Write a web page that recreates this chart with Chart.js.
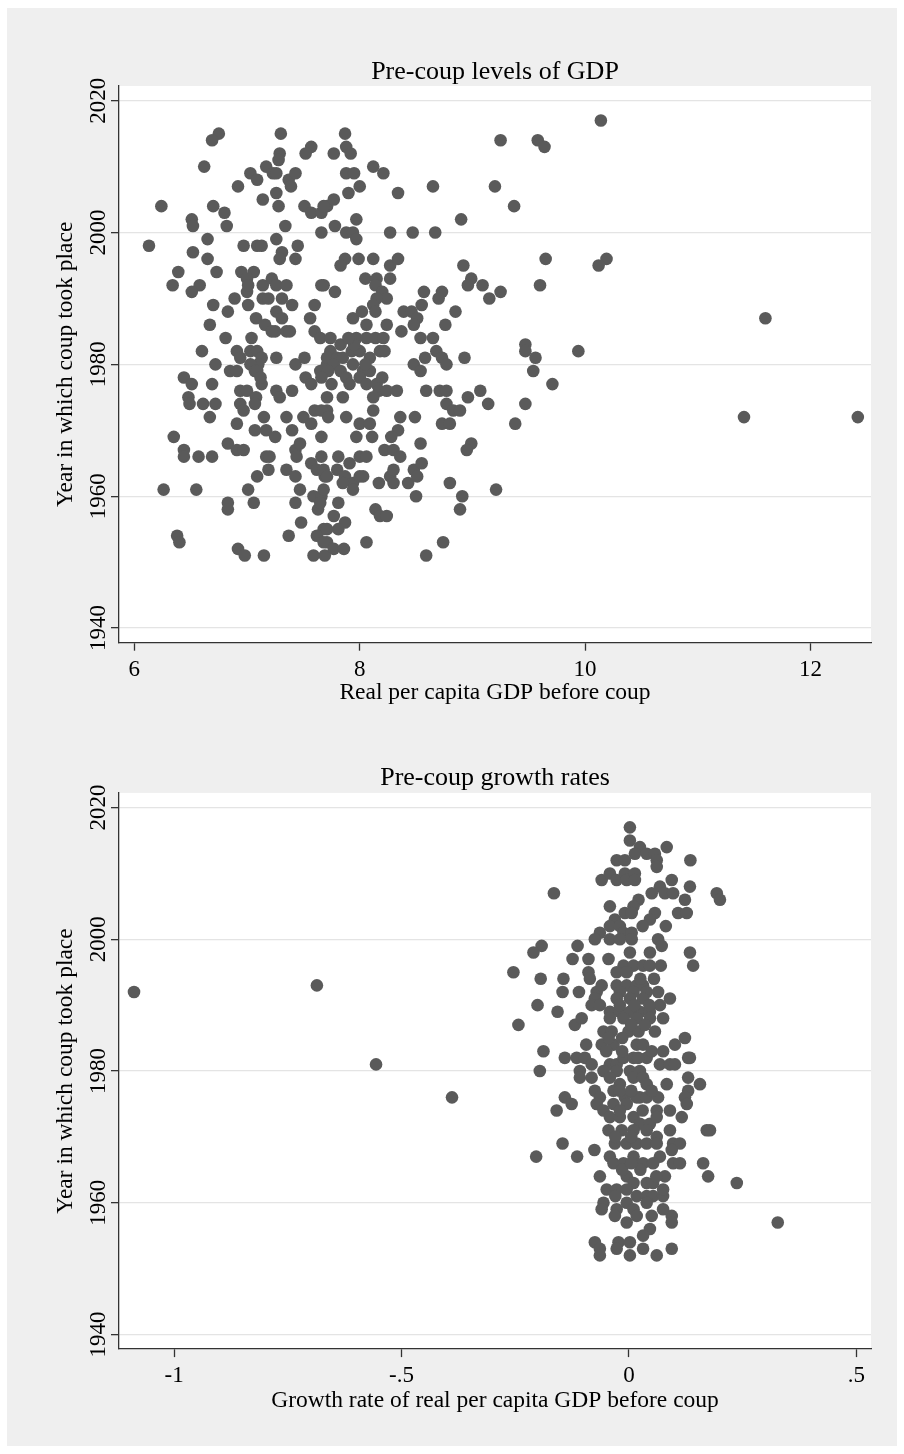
<!DOCTYPE html>
<html>
<head>
<meta charset="utf-8">
<script src="https://cdn.jsdelivr.net/npm/chart.js@4.4.1/dist/chart.umd.min.js"></script>
<style>
  body { margin: 0; background: #ffffff; }
  #frame { position: absolute; left: 7px; top: 8px; width: 890px; height: 1438px; background: #efefef; }
  .box { position: absolute; left: 0; width: 904px; height: 727px; }
</style>
</head>
<body>
<div id="frame"></div>
<div class="box" style="top:0px"><canvas id="levels"></canvas></div>
<div class="box" style="top:727px"><canvas id="growth"></canvas></div>
<script>
// tick values
const yearTicks = [1940, 1960, 1980, 2000, 2020];
const gdpTicks = [6, 8, 10, 12];
const growthTicks = [-1, -0.5, 0, 0.5];
const growthTickLabels = ["-1", "-.5", "0", ".5"];

// top panel: real per capita GDP before coup (log) vs year
const gdpLevel = [
  10.14, 9.58, 9.64, 9.37, 9.65, 10.19, 10.12, 9.6, 11.6, 9.47, 9.47, 9.56, 9.94, 9.54, 9.71, 9.47, 9.38, 11.41, 12.42,
  6.75, 6.69, 7.30, 6.62, 7.29, 7.28, 7.57, 7.52, 7.03, 7.09, 7.17, 7.23, 7.26, 7.37, 7.43, 7.39, 6.92, 7.14, 7.26, 7.28,
  7.51, 7.57, 7.66, 7.71, 6.24, 6.70, 6.80, 6.82, 6.51, 6.52, 7.34, 7.66, 6.13, 6.65, 6.52, 6.65, 6.97, 7.09, 7.13, 7.26,
  7.31, 7.29, 7.45, 7.43, 6.39, 6.34, 6.58, 6.51, 6.73, 6.95, 7.06, 7.0, 7.0, 7.01, 7.14, 7.22, 7.26, 7.35, 7.14, 7.19,
  7.31, 7.40, 7.26, 7.31, 7.25, 7.35, 7.66, 6.89, 6.70, 6.83, 7.01, 7.08, 6.67, 7.16, 7.22, 7.60, 7.56, 7.60, 7.65, 6.81,
  7.04, 7.38,
  6.60, 6.72, 6.91, 6.94, 7.03, 7.09, 7.13, 7.10, 7.03, 7.07, 7.09, 7.13, 7.12, 6.85, 6.91, 7.26, 7.43, 7.51, 6.44, 6.51,
  6.69, 6.48, 6.49, 6.61, 6.72, 6.67, 6.94, 7.0, 6.94, 6.97, 7.08, 7.07, 7.26, 7.29, 7.40, 7.52, 7.57, 7.65, 7.71, 6.91,
  7.15, 7.07, 7.17, 7.25, 7.35, 7.40, 7.50, 7.60, 7.57, 7.66, 7.71, 6.35, 6.44, 6.44, 6.57, 6.69, 6.83, 6.91, 6.97, 7.17,
  7.20, 7.19, 7.09, 7.35, 7.43, 7.43, 7.47, 7.44, 7.57, 7.66, 7.62, 7.69, 6.26, 6.55, 7.01, 7.06, 6.83, 6.83, 7.47, 7.43,
  7.59, 7.66, 7.63, 7.65, 7.48, 7.37, 7.68, 7.62, 6.38, 6.40, 6.92, 6.98, 7.15, 7.59, 7.69, 7.71,
  7.87, 7.88, 7.92, 7.77, 8.12, 8.21, 7.88, 7.95, 8.0, 7.90, 8.34, 8.65, 7.77, 7.68, 7.97, 7.78, 7.88, 7.94, 7.97, 8.27,
  8.47, 8.67, 8.90, 9.20, 9.25, 7.87, 7.83, 7.99, 8.12, 8.27, 8.34, 7.68, 7.78, 8.05, 8.15, 8.14, 8.27, 8.20, 8.24, 8.15,
  8.12, 8.14, 8.57, 8.73, 8.70, 8.55, 8.39, 8.46, 8.51, 8.48, 7.94, 8.02, 8.06, 8.24, 8.37, 8.76, 8.85, 8.92, 8.99, 8.96,
  9.09, 9.15, 9.25, 7.97, 8.06, 8.14, 8.21, 8.54, 8.65,
  7.74, 7.83, 7.74, 7.71, 7.80, 7.77, 7.72, 7.83, 7.93, 8.0, 8.09, 8.18, 8.22, 7.94, 8.03, 7.88, 7.91, 8.0, 8.09, 8.06,
  8.15, 8.20, 8.17, 8.24, 8.33, 7.66, 7.71, 7.66, 7.72, 7.85, 7.88, 8.12, 8.0, 8.09, 7.97, 8.11, 8.36, 8.49, 8.34, 8.28,
  8.22, 8.30, 8.36, 8.54, 8.48, 8.54, 8.58, 8.68, 8.73, 8.77, 8.93, 8.59, 8.71, 8.77, 8.77, 8.83, 8.89, 8.96, 9.07, 9.14,
  8.73, 8.80, 8.99, 8.95, 7.81, 8.0, 8.06, 7.68, 7.71, 7.80, 7.87, 7.91, 7.94, 8.0, 8.03, 7.85, 7.94, 8.17, 8.27, 8.30,
  8.30, 8.43, 8.48, 8.55, 8.51, 8.80, 8.50, 7.68, 7.81, 7.77, 7.87, 7.81, 7.71, 7.68, 7.77, 7.86, 8.14, 8.18, 8.24, 8.06,
  8.59, 8.74, 8.91, 8.89, 9.21,
  7.95, 8.05, 7.85, 7.90, 7.75, 8.12
];
const gdpYear = [
  2017, 2014, 2013, 2004, 1996, 1996, 1995, 1992, 1987, 1983, 1982, 1981, 1982, 1979, 1977, 1974, 1971, 1972, 1972,
  2015, 2014, 2015, 2010, 2012, 2011, 2013, 2012, 2009, 2008, 2010, 2009, 2009, 2008, 2009, 2007, 2007, 2005, 2006, 2004,
  2004, 2003, 2003, 2004, 2004, 2004, 2003, 2001, 2002, 2001, 2001, 2000, 1998, 1999, 1997, 1996, 1998, 1998, 1998, 1999,
  1997, 1996, 1998, 1996, 1994, 1992, 1992, 1991, 1994, 1994, 1994, 1993, 1991, 1992, 1992, 1993, 1992, 1992, 1990, 1990,
  1990, 1989, 1988, 1987, 1985, 1985, 1992, 1990, 1989, 1988, 1989, 1987, 1986, 1986, 1985, 1989, 1987, 1985, 1984, 1984,
  1984, 1985,
  1982, 1980, 1982, 1981, 1982, 1982, 1981, 1980, 1980, 1979, 1979, 1977, 1978, 1979, 1979, 1981, 1980, 1981, 1978, 1977,
  1977, 1975, 1974, 1974, 1974, 1972, 1976, 1976, 1974, 1973, 1975, 1974, 1976, 1975, 1976, 1978, 1977, 1979, 1980, 1971,
  1972, 1970, 1970, 1969, 1972, 1970, 1972, 1973, 1971, 1969, 1973, 1969, 1967, 1966, 1966, 1966, 1968, 1967, 1967, 1966,
  1966, 1964, 1963, 1964, 1963, 1967, 1968, 1966, 1965, 1966, 1964, 1963, 1961, 1961, 1961, 1959, 1959, 1958, 1961, 1959,
  1960, 1960, 1958, 1959, 1956, 1954, 1955, 1954, 1954, 1953, 1952, 1951, 1951, 1951, 1951, 1953,
  2015, 2013, 2012, 2012, 2010, 2009, 2009, 2009, 2007, 2006, 2006, 2007, 2005, 2004, 2002, 2001, 2000, 2000, 1999, 2000,
  2000, 2000, 2002, 2007, 2014, 1996, 1995, 1996, 1996, 1995, 1996, 1992, 1991, 1993, 1993, 1992, 1993, 1991, 1990, 1990,
  1989, 1988, 1991, 1991, 1990, 1989, 1988, 1988, 1987, 1986, 1987, 1988, 1986, 1986, 1985, 1986, 1988, 1995, 1993, 1992,
  1992, 1990, 1991, 1984, 1984, 1984, 1984, 1984, 1984,
  1984, 1983, 1982, 1981, 1981, 1980, 1979, 1979, 1982, 1982, 1981, 1982, 1982, 1980, 1979, 1978, 1977, 1978, 1979, 1977,
  1977, 1978, 1976, 1976, 1976, 1978, 1975, 1973, 1972, 1975, 1972, 1973, 1971, 1971, 1969, 1969, 1972, 1972, 1970, 1969,
  1967, 1967, 1966, 1968, 1980, 1979, 1981, 1982, 1981, 1980, 1981, 1976, 1976, 1976, 1974, 1973, 1973, 1975, 1976, 1974,
  1971, 1971, 1968, 1967, 1966, 1966, 1966, 1964, 1963, 1964, 1963, 1965, 1962, 1963, 1963, 1962, 1961, 1962, 1963, 1962,
  1964, 1962, 1964, 1965, 1963, 1962, 1960, 1961, 1959, 1957, 1956, 1955, 1955, 1953, 1952, 1952, 1958, 1957, 1957, 1953,
  1951, 1953, 1960, 1958, 1961,
  1983, 1980, 1981, 1984, 1977, 1975
];

// bottom panel: growth rate of real per capita GDP before coup vs year
const growthRate = [
  -1.088, -0.686, -0.556, -0.389, 0.327, 0.237,
  0.002, 0.002, 0.024, 0.013, 0.039, 0.057, 0.061, 0.061, 0.083, -0.027, -0.009, 0.135, -0.060, -0.042, -0.027, -0.009,
  -0.005, 0.013, 0.013, 0.094, 0.134, 0.068, 0.079, 0.097, 0.050, 0.123, 0.193, 0.200, -0.165, 0.021, 0.010, -0.042,
  -0.009, 0.006, 0.057, 0.046, 0.108, 0.127, -0.031, -0.042, -0.020, -0.012, 0.006, 0.081, -0.064, -0.075, -0.042, -0.020,
  0.006, 0.064, 0.072, 0.134, 0.141, 0.002, 0.046, -0.113, -0.124, -0.089, -0.192, -0.210, -0.254, -0.194, -0.144, -0.089,
  -0.086, -0.012, 0.010, 0.031, 0.046, 0.070, -0.027, -0.005, -0.146, -0.110, -0.071, -0.060, -0.075, -0.027, -0.005, 0.017,
  0.031, -0.020, 0.010, 0.039, 0.064, 0.090, -0.027, 0.002, 0.031, 0.068, -0.201, -0.157, -0.082, -0.064, -0.042, -0.020,
  0.002, 0.024, 0.046, 0.075, -0.042, -0.012, 0.017, 0.046, -0.119, -0.104, -0.243, -0.056, -0.038, -0.001, 0.021, 0.057,
  0.123, 0.101, -0.188, -0.094, -0.060, -0.034, 0.017, 0.031,
  -0.141, -0.115, -0.097, -0.082, -0.196, -0.108, -0.108, -0.082, -0.042, -0.027, -0.012, 0.010, 0.039, -0.056, -0.027, 0.002,
  0.024, 0.068, 0.090, 0.101, 0.130, 0.134, 0.130, 0.156, 0.130, 0.123, 0.127, 0.083, -0.042, -0.020, 0.010, 0.031,
  0.039, 0.024, 0.017, 0.039, -0.075, -0.064, -0.071, -0.056, -0.034, -0.034, -0.009, -0.005, -0.141, -0.126, -0.159, 0.064,
  0.061, 0.090, 0.116, -0.042, -0.020, 0.010, 0.024, 0.046, 0.061, -0.045, -0.016, 0.010, 0.039, 0.061, 0.090, 0.171,
  0.178, -0.031, -0.005, 0.017, 0.039, 0.061, 0.097, 0.112, 0.094, -0.146, -0.076, -0.204, -0.114, -0.042, -0.034, -0.012,
  0.010, 0.031, 0.068, 0.053, 0.097, 0.112, 0.163, 0.174, -0.064, -0.005, 0.010, 0.039, 0.053, 0.079, -0.049, -0.027,
  -0.005, 0.017, 0.039, 0.053, 0.075, -0.056, -0.060, -0.027, -0.005, 0.010, 0.039, -0.031, -0.005, 0.017, 0.050, 0.094,
  0.094, 0.046, 0.031, -0.075, -0.064, -0.064, -0.023, -0.027, 0.002, 0.002, 0.031, 0.061, 0.094,
  -0.045, -0.015, 0.005, 0.035, -0.020, 0.012, 0.045, -0.050, -0.015, 0.020, 0.050, 0.075, -0.020, 0.005, 0.050, -0.020,
  0.030, 0.005, -0.030, 0.025, -0.015, 0.005, 0.060, -0.030, 0.075, 0.025, 0.055, -0.045, 0.030, 0.075
];
const growthYear = [
  1992, 1993, 1981, 1976, 1957, 1963,
  2017, 2015, 2014, 2013, 2013, 2013, 2012, 2011, 2014, 2012, 2012, 2012, 2009, 2010, 2009, 2010,
  2009, 2010, 2009, 2009, 2008, 2008, 2007, 2007, 2007, 2006, 2007, 2006, 2007, 2006, 2005, 2005,
  2004, 2004, 2004, 2003, 2004, 2004, 2003, 2002, 2002, 2001, 2001, 2002, 2001, 2000, 2000, 2000,
  2000, 2000, 1999, 1998, 1996, 1998, 1998, 1999, 1997, 1997, 1999, 1998, 1995, 1994, 1994, 1995,
  1994, 1996, 1996, 1996, 1996, 1996, 1995, 1995, 1992, 1992, 1992, 1993, 1991, 1993, 1993, 1993,
  1993, 1992, 1992, 1992, 1992, 1991, 1991, 1991, 1991, 1990, 1990, 1989, 1990, 1990, 1989, 1989,
  1989, 1989, 1989, 1988, 1988, 1988, 1988, 1988, 1987, 1988, 1987, 1986, 1986, 1986, 1986, 1986,
  1985, 1984, 1983, 1984, 1984, 1984, 1984, 1984,
  1982, 1982, 1982, 1981, 1980, 1980, 1979, 1979, 1981, 1981, 1982, 1982, 1982, 1980, 1980, 1980,
  1980, 1981, 1981, 1981, 1982, 1982, 1979, 1978, 1977, 1976, 1975, 1978, 1979, 1978, 1979, 1979,
  1978, 1976, 1976, 1976, 1977, 1976, 1975, 1974, 1975, 1977, 1976, 1975, 1976, 1975, 1974, 1976,
  1974, 1974, 1973, 1973, 1973, 1973, 1972, 1972, 1973, 1971, 1971, 1971, 1971, 1970, 1971, 1971,
  1971, 1969, 1969, 1969, 1969, 1969, 1969, 1969, 1968, 1969, 1968, 1967, 1967, 1967, 1966, 1966,
  1967, 1966, 1967, 1966, 1966, 1966, 1966, 1964, 1964, 1964, 1963, 1963, 1963, 1964, 1962, 1962,
  1962, 1961, 1961, 1961, 1961, 1960, 1959, 1959, 1960, 1959, 1960, 1958, 1957, 1958, 1958, 1958,
  1957, 1956, 1955, 1954, 1953, 1952, 1954, 1953, 1954, 1952, 1953, 1952, 1953,
  1985, 1985, 1987, 1987, 1990, 1990, 1990, 1983, 1983, 1982, 1983, 1983, 1977, 1977, 1977, 1974,
  1974, 1970, 1970, 1965, 1965, 1966, 1964, 1961, 1959, 1994, 1994, 1997, 2002, 1962
];

const serif = "'Liberation Serif', 'Times New Roman', serif";
const dotColor = "#5a5a5a";
const axisColor = "#333333";

// white plot region like the stata plotregion
const plotBackground = {
  id: "plotBackground",
  beforeDraw(chart) {
    const a = chart.chartArea;
    const ctx = chart.ctx;
    ctx.save();
    ctx.fillStyle = "#ffffff";
    ctx.fillRect(a.left, a.top, a.right - a.left, a.bottom - a.top);
    ctx.restore();
  }
};

// vertical year labels on the y axis
const yearLabels = {
  id: "yearLabels",
  afterDraw(chart) {
    const y = chart.scales.y;
    const ctx = chart.ctx;
    ctx.save();
    ctx.fillStyle = "#000000";
    ctx.font = "23px " + serif;
    ctx.textAlign = "center";
    ctx.textBaseline = "middle";
    yearTicks.forEach(function (v) {
      ctx.save();
      ctx.translate(99, y.getPixelForValue(v));
      ctx.rotate(-Math.PI / 2);
      ctx.fillText(String(v), 0, 0);
      ctx.restore();
    });
    ctx.restore();
  }
};

function makeChart(id, p) {
  const points = p.xs.map(function (x, i) {
    return { x: x, y: p.ys[i] };
  });
  return new Chart(document.getElementById(id), {
    type: "scatter",
    data: {
      datasets: [
        {
          data: points,
          backgroundColor: dotColor,
          borderColor: dotColor,
          borderWidth: 0,
          pointRadius: 6.3,
          pointHoverRadius: 6.3,
        },
      ],
    },
    options: {
      responsive: true,
      maintainAspectRatio: false,
      animation: false,
      layout: { padding: { left: 0, right: 33, top: 0, bottom: 0 } },
      plugins: {
        legend: { display: false },
        tooltip: { enabled: false },
        title: {
          display: true,
          fullSize: false,
          text: p.title,
          color: "#000000",
          font: { family: serif, size: 26, weight: "normal", lineHeight: 1 },
          padding: { top: p.titleTop, bottom: p.titleBottom },
        },
      },
      scales: {
        x: {
          type: "linear",
          min: p.xMin,
          max: p.xMax,
          afterBuildTicks: function (s) {
            s.ticks = p.xTicks.map(function (v) { return { value: v }; });
          },
          afterFit: function (s) { s.height = p.xHeight; },
          grid: { drawOnChartArea: false, drawTicks: true, tickLength: 8, tickColor: axisColor, tickWidth: 1.3 },
          border: { display: true, color: axisColor, width: 1.3 },
          ticks: {
            color: "#000000",
            font: { family: serif, size: 23 },
            padding: 5.5,
            maxRotation: 0,
            autoSkip: false,
            callback: function (v, i) { return p.xLabels[i]; },
          },
          title: {
            display: true,
            text: p.xTitle,
            color: "#000000",
            font: { family: serif, size: 23.5 },
            padding: { top: 0, bottom: p.xTitleBottom },
          },
        },
        y: {
          type: "linear",
          min: 1937.77,
          max: 2022.23,
          afterBuildTicks: function (s) {
            s.ticks = yearTicks.map(function (v) { return { value: v }; });
          },
          afterFit: function (s) { s.width = 119; },
          grid: { color: "#e4e4e4", lineWidth: 1.3, drawTicks: true, tickLength: 8, tickColor: axisColor, tickWidth: 1.3 },
          border: { display: true, color: axisColor, width: 1.3 },
          ticks: { display: false },
          title: {
            display: true,
            text: "Year in which coup took place",
            color: "#000000",
            font: { family: serif, size: 23.5 },
            padding: { top: 51.9, bottom: 0 },
          },
        },
      },
    },
    plugins: [plotBackground, yearLabels],
  });
}

makeChart("levels", {
  xs: gdpLevel,
  ys: gdpYear,
  title: "Pre-coup levels of GDP",
  titleTop: 59,
  titleBottom: 1,
  xMin: 5.864,
  xMax: 12.537,
  xTicks: gdpTicks,
  xLabels: gdpTicks.map(String),
  xHeight: 84.3,
  xTitle: "Real per capita GDP before coup",
  xTitleBottom: 19.9,
});

makeChart("growth", {
  xs: growthRate,
  ys: growthYear,
  title: "Pre-coup growth rates",
  titleTop: 38,
  titleBottom: 1.9,
  xMin: -1.121,
  xMax: 0.532,
  xTicks: growthTicks,
  xLabels: growthTickLabels,
  xHeight: 104.9,
  xTitle: "Growth rate of real per capita GDP before coup",
  xTitleBottom: 38.9,
});
</script>
</body>
</html>
